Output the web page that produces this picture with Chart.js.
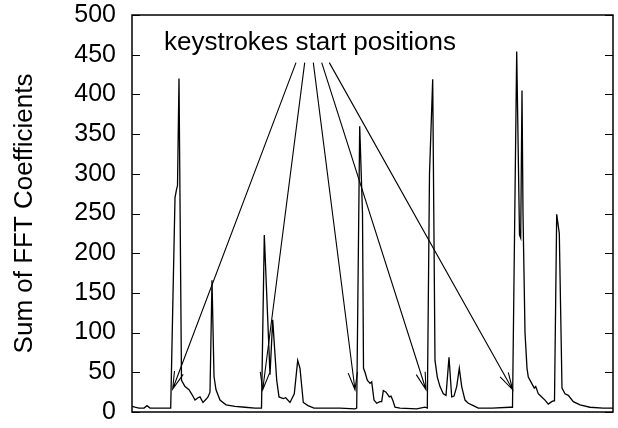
<!DOCTYPE html>
<html>
<head>
<meta charset="utf-8">
<script src="https://cdn.jsdelivr.net/npm/chart.js@4.4.0/dist/chart.umd.min.js"></script>
<style>
  html, body { margin: 0; padding: 0; background: #fff; }
  #wrap { width: 618px; height: 428px; }
</style>
</head>
<body>
<div id="wrap"><canvas id="c" width="618" height="428"></canvas></div>
<script>
// ---- data (sample position, sum of FFT coefficients) ----
const samplePos = [0,3,7,12,15,18,24,31,38.7,43,44.5,45.5,47,49.5,53,57,60,63,66,68,71,74,76,78,80,82,84,88,94,103,113,123,
  129.5,132.3,138,140.7,144.7,147,151.3,153.7,158,162.3,165.7,168,171.3,176,182,193,208,223,
  224.7,227.7,230.5,231.5,233,235.3,238,239.7,242,244.7,248,249.7,251.3,254,256.3,257.3,259,260.7,263,268,284.7,293,
  295.3,297.5,300.7,301.8,303,305.3,308,311.3,314,317,319.7,322,324.7,327.3,329.7,333,336.3,341.3,346.3,360,378,
  380.5,384.7,387.5,388.7,390,391,393,395,396.3,399.7,402.3,403.7,406.3,409.7,413,416.3,419.7,421.3,422.5,
  424.7,427.3,430,433,436.3,441.3,448,458,471,481];
const fftSum = [7,6,5,5,8,5,5,5,5,270,280,285,420,40,32,28,22,15,18,19,12,16,19,25,166,45,28,15,9,7,6,5,
  5,223,47,116,40,19,17,18,12,23,65,55,12,8,5,5,5,4,
  5,360,250,55,50,40,36,38,15,11,13,13,27,25,21,19,20,15,6,5,4,6,
  5,300,419,250,65,44,32,23,21,69,19,20,32,55,32,15,11,8,5,5,6,
  6,454,223,219,405,250,100,55,44,36,30,32,23,19,15,10,13,14,14,
  249,225,30,23,21,13,9,6,5,5];
const yTicks = [0,50,100,150,200,250,300,350,400,450,500];

// annotation: label and arrows (data coordinates)
const noteText = "keystrokes start positions";
const noteAt = [178, 456];
const arrowFrom = [[164,440],[172.7,440],[181.3,440],[189.7,440],[197.3,440]];
const arrowTo   = [[40.7,29],[130.7,28],[223,28],[294,28],[380.7,28]];

const FONT = '"Liberation Sans", Arial, Helvetica, sans-serif';

const points = samplePos.map((x, i) => ({ x: x, y: fftSum[i] }));

const framePlugin = {
  id: 'frame',
  afterDraw(chart) {
    const { ctx, chartArea: a, scales } = chart;
    ctx.save();
    ctx.strokeStyle = '#000';
    ctx.lineWidth = 1.5;
    ctx.strokeRect(a.left, a.top, a.right - a.left, a.bottom - a.top);
    ctx.lineWidth = 1;
    yTicks.forEach(v => {
      const y = Math.round(scales.y.getPixelForValue(v)) + 0.5;
      ctx.beginPath();
      ctx.moveTo(a.left, y); ctx.lineTo(a.left + 8, y);
      ctx.moveTo(a.right, y); ctx.lineTo(a.right - 8, y);
      ctx.stroke();
    });
    ctx.restore();
  }
};

const notePlugin = {
  id: 'note',
  afterDatasetsDraw(chart) {
    const { ctx, scales } = chart;
    const X = v => scales.x.getPixelForValue(v);
    const Y = v => scales.y.getPixelForValue(v);
    ctx.save();
    ctx.fillStyle = '#000';
    ctx.font = '26px ' + FONT;
    ctx.textAlign = 'center';
    ctx.textBaseline = 'alphabetic';
    ctx.fillText(noteText, X(noteAt[0]), Y(noteAt[1]));
    ctx.strokeStyle = '#000';
    ctx.lineWidth = 1.1;
    const head = 18, ang = 15 * Math.PI / 180;
    arrowFrom.forEach((f, i) => {
      const x0 = X(f[0]), y0 = Y(f[1]);
      const x1 = X(arrowTo[i][0]), y1 = Y(arrowTo[i][1]);
      ctx.beginPath();
      ctx.moveTo(x0, y0); ctx.lineTo(x1, y1);
      const th = Math.atan2(y0 - y1, x0 - x1);
      ctx.moveTo(x1 + head * Math.cos(th + ang), y1 + head * Math.sin(th + ang));
      ctx.lineTo(x1, y1);
      ctx.lineTo(x1 + head * Math.cos(th - ang), y1 + head * Math.sin(th - ang));
      ctx.stroke();
    });
    ctx.restore();
  }
};

new Chart(document.getElementById('c'), {
  type: 'line',
  data: {
    datasets: [{
      data: points,
      borderColor: '#000',
      borderWidth: 1.3,
      pointRadius: 0,
      tension: 0,
      fill: false
    }]
  },
  options: {
    responsive: false,
    animation: false,
    devicePixelRatio: 1,
    layout: { autoPadding: false, padding: { left: 0, right: 5, top: 15, bottom: 16 } },
    plugins: { legend: { display: false }, tooltip: { enabled: false } },
    scales: {
      x: { type: 'linear', min: 0, max: 481, display: false },
      y: {
        type: 'linear', min: 0, max: 500,
        afterFit(s) { s.width = 132; s.paddingTop = 0; s.paddingBottom = 0; },
        afterBuildTicks(s) { s.ticks = yTicks.map(v => ({ value: v })); },
        border: { display: false },
        grid: { display: false, drawTicks: false },
        ticks: { color: '#000', font: { family: FONT, size: 25 }, padding: 16 },
        title: {
          display: true, text: 'Sum of FFT Coefficients', color: '#000',
          font: { family: FONT, size: 26 }, padding: { top: 9, bottom: 0 }
        }
      }
    }
  },
  plugins: [framePlugin, notePlugin]
});
</script>
</body>
</html>
